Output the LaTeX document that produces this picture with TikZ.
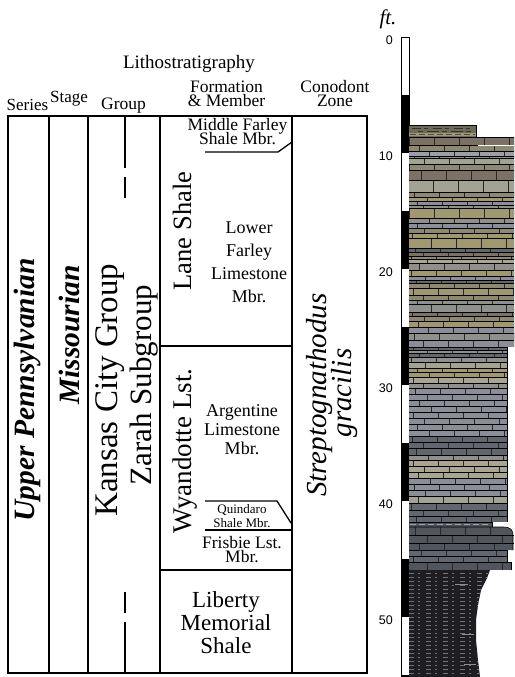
\documentclass[tikz,border=0pt]{standalone}
\usepackage{fontspec}
\setmainfont{Liberation Serif}
\newfontfamily\arialfont{Liberation Sans}
\definecolor{brn}{RGB}{123,114,101}
\definecolor{olv}{RGB}{141,136,112}
\definecolor{kha}{RGB}{160,153,111}
\definecolor{gry}{RGB}{143,143,140}
\definecolor{blg}{RGB}{139,141,152}
\definecolor{lgr}{RGB}{163,163,148}
\definecolor{tan}{RGB}{169,165,144}
\definecolor{dgr}{RGB}{98,102,110}
\definecolor{ddg}{RGB}{80,85,94}
\definecolor{lbl}{RGB}{156,158,171}
\definecolor{shl}{RGB}{110,106,88}
\definecolor{blk}{RGB}{30,30,34}
\newcommand\fs[2]{\fontsize{#1}{#2}\selectfont\lineskiplimit=-50pt\lineskip=0pt}
\tikzset{
  tab/.style={line width=1.8pt},
  mem/.style={line width=1.3pt},
  joint/.style={line width=0.5pt, black!85},
  bed/.style={line width=0.6pt, black},
  txt/.style={inner sep=0pt, anchor=base},
  ml/.style={inner sep=0pt, anchor=north, align=center},
}
\begin{document}
\begin{tikzpicture}[x=1pt,y=-1pt]
\useasboundingbox (0,0) rectangle (514,677);
\clip (0,0) rectangle (514,677);

% ---------- header ----------
\node[txt] (lith) at (189,69) {\fs{19}{19}Lithostratigraphy};
\node[txt] (series) at (27.5,110) {\fs{17}{17}Series};
\node[txt] (stage) at (69,102) {\fs{17}{17}Stage};
\node[txt] (group) at (123.5,109) {\fs{17.5}{17.5}Group};
\node[ml, font=\fs{17.5}{14}] (form) at (226.5,81) {Formation\\\& Member};
\node[ml, font=\fs{17.5}{14}] (cono) at (335,80) {Conodont\\Zone};

% ---------- table ----------
\draw[tab] (8,116) rectangle (367,673);
\draw[tab] (49,116) -- (49,673);
\draw[tab] (88,116) -- (88,673);
\draw[tab] (160,116) -- (160,673);
\draw[tab] (292,116) -- (292,673);
\draw[tab] (160,346) -- (292,346);
\draw[tab] (160,570) -- (292,570);
% subgroup boundary (broken)
\draw[mem] (125,116) -- (125,168);
\draw[mem] (125,177) -- (125,198);
\draw[mem] (125,592) -- (125,613);
\draw[mem] (125,622) -- (125,673);
% member boundaries
\draw[mem] (205,152) -- (278,152) -- (292,142);
\draw[mem] (205,501) -- (277,501) -- (291,523);
\draw[mem] (205,530) -- (292,530);

% rotated texts
\node[txt, rotate=90] (upn) at (34,390) {\fs{29.5}{29.5}\bfseries\itshape Upper Pennsylvanian};
\node[txt, rotate=90] (mis) at (79,335) {\fs{29.5}{29.5}\bfseries\itshape Missourian};
\node[txt, rotate=90] (kcg) at (117,390) {\fs{33}{33}Kansas City Group};
\node[txt, rotate=90] (zar) at (151,385) {\fs{31}{31}Zarah Subgroup};
\node[txt, rotate=90] (lane) at (191,231) {\fs{26.5}{26.5}Lane Shale};
\node[txt, rotate=90] (wyan) at (191,451) {\fs{27}{27}Wyandotte Lst.};
\node[txt, rotate=90] (strep) at (326,395) {\fs{29}{29}\itshape Streptognathodus};
\node[txt, rotate=90] (grac) at (351,393) {\fs{29}{29}\itshape gracilis};

% member texts
\node[ml, font=\fs{17.5}{14}] (mf) at (237.5,118) {Middle Farley\\Shale Mbr.};
\node[ml, font=\fs{18}{23}] (lf) at (249,222) {Lower\\Farley\\Limestone\\Mbr.};
\node[ml, font=\fs{18}{19}] (ar) at (242,404.5) {Argentine\\Limestone\\Mbr.};
\node[ml, font=\fs{13}{14}] (qu) at (242,504) {Quindaro\\Shale Mbr.};
\node[ml, font=\fs{17.5}{14}] (fr) at (242,536) {Frisbie Lst.\\Mbr.};
\node[ml, font=\fs{23}{23}] (lm) at (226,591.5) {Liberty\\Memorial\\Shale};

% ---------- scale ----------
\node[txt] (ft) at (388,25) {\fs{21}{21}\itshape ft.};
\fill[white] (401,37) rectangle (409,680);
\foreach \f in {5,15,25,35,45,55}
  \fill (401,{37+11.6*\f}) rectangle (409,{37+11.6*(\f+5)});
\draw[line width=0.8pt] (401,37) rectangle (409,680);
\foreach \f in {0,10,20,30,40,50}
  \node[inner sep=0pt, anchor=east, font=\arialfont\fontsize{12.5}{12.5}\selectfont] (lab\f) at (393,{40+11.6*\f}) {\f};

% ---------- lithologic column ----------
% Middle Farley shale
\fill[shl] (409,125) rectangle (476,137);
\fill[kha] (409,133) rectangle (476,136);
\draw[black!80, line width=0.8pt, dash pattern=on 9pt off 3pt on 4pt off 5pt] (412,128) -- (474,128);
\draw[black!80, line width=0.8pt, dash pattern=on 5pt off 4pt on 12pt off 3pt] (418,131) -- (474,131);
\draw[black!70, line width=0.6pt, dash pattern=on 6pt off 3pt] (410,134.5) -- (475,134.5);
\draw[bed] (409,125) -- (476,125) -- (476,137);

\foreach \Ytop/\Ybot/\Col/\Xr/\Off in {
  137/145/brn/514/0, 145/151/olv/514/10, 151/156/lbl/514/20, 156/158/gry/514/5,
  158/164/lgr/514/15, 164/170/olv/514/0, 170/180/brn/514/12, 180/192/lgr/514/24,
  192/197/olv/514/5, 197/201/kha/514/18, 201/205/blg/514/8, 205/208/gry/514/14,
  208/218/kha/514/0, 218/223/gry/514/20, 223/228/blg/514/8, 228/233/olv/514/15,
  233/238/kha/514/3, 238/248/kha/514/22, 248/252/dgr/514/6, 252/256/brn/514/14,
  256/259/olv/514/2, 259/263/tan/514/18, 263/270/gry/514/10, 270/276/kha/514/2,
  276/280/blg/514/16, 280/283/dgr/514/7, 283/288/olv/514/20, 288/295/kha/514/4,
  295/300/olv/514/14, 300/304/gry/514/8, 304/312/gry/514/22, 312/316/brn/514/3,
  316/321/olv/514/15, 321/327/kha/514/9, 327/333/blg/514/19, 333/340/gry/514/5,
  340/347/blg/514/14,
  347/350/dgr/507/4, 350/353/gry/507/18, 353/357/dgr/507/10, 357/362/gry/507/2,
  362/368/lgr/507/16, 368/372/kha/507/8, 372/377/kha/507/20, 377/383/tan/507/4,
  383/388/gry/507/14, 388/394/blg/507/6, 394/400/blg/507/18, 400/406/blg/507/10,
  406/412/blg/507/22, 412/418/blg/507/4, 418/424/blg/507/15, 424/430/blg/507/8,
  430/436/blg/507/20, 436/442/dgr/507/3, 442/448/dgr/507/14, 448/455/dgr/507/7,
  455/460/gry/507/19, 460/466/tan/507/4, 466/472/tan/507/15, 472/478/tan/507/9,
  478/484/blg/507/21, 484/490/blg/507/5, 490/496/blg/507/16, 496/503/lgr/507/9,
  503/510/dgr/507/2, 510/516/dgr/507/14, 516/522/dgr/507/7,
  550/556/dgr/507/12, 556/562/dgr/507/4, 562/570/ddg/511/18}
{
  \fill[\Col] (409,\Ytop) rectangle (\Xr,\Ybot);
  \begin{scope}
    \clip (409,\Ytop) rectangle (\Xr,\Ybot);
    \foreach \k in {0,...,4}
      \draw[joint] ({409+\Off+\k*25},\Ytop) -- ({409+\Off+\k*25},\Ybot);
  \end{scope}
  \draw[bed] (409,\Ytop) -- (\Xr,\Ytop) -- (\Xr,\Ybot);
}
\draw[white, line width=1pt] (478,145) -- (514,145);

% Quindaro shale
\fill[ddg] (409,522) rectangle (492,527);
\draw[lbl, line width=0.7pt, dash pattern=on 6pt off 3pt] (410,524.5) -- (490,524.5);
\draw[bed] (409,522) -- (492,522) -- (492,527);

% Frisbie limestone bulge
\fill[ddg] (409,527) -- (503,527) .. controls (511,527) and (513,530) .. (513,536) -- (513,550) -- (409,550) -- cycle;
\begin{scope}
  \clip (409,527) rectangle (514,550);
  \foreach \yy/\oo in {527/6, 535/18, 543/10}
    \foreach \k in {0,...,4}
      \draw[joint] ({409+\oo+\k*25},\yy) -- ({409+\oo+\k*25},{\yy+8});
  \draw[bed] (409,535) -- (514,535);
  \draw[bed] (409,543) -- (514,543);
\end{scope}
\draw[bed] (409,527) -- (503,527) .. controls (511,527) and (513,530) .. (513,536) -- (513,550);

% Liberty Memorial shale
\fill[blk] (409,570) -- (490,570) -- (487,578) -- (481,590) -- (478,605) -- (476,620) -- (476,640) -- (478,660) -- (480,677) -- (409,677) -- cycle;
\begin{scope}
  \clip (409,570) -- (490,570) -- (487,578) -- (481,590) -- (478,605) -- (476,620) -- (476,640) -- (478,660) -- (480,677) -- (409,677) -- cycle;
  \foreach \yy in {573,577,...,677}
    \draw[black!55, line width=0.4pt, dash pattern=on 5pt off 4pt on 2pt off 6pt] (409,\yy) -- (492,\yy);
  \draw[blg, line width=0.7pt] (455,584) -- (468,584);
  \draw[blg, line width=0.7pt] (462,634) -- (474,634);
  \draw[blg, line width=0.7pt] (464,664) -- (476,664);
\end{scope}
\end{tikzpicture}
\end{document}
